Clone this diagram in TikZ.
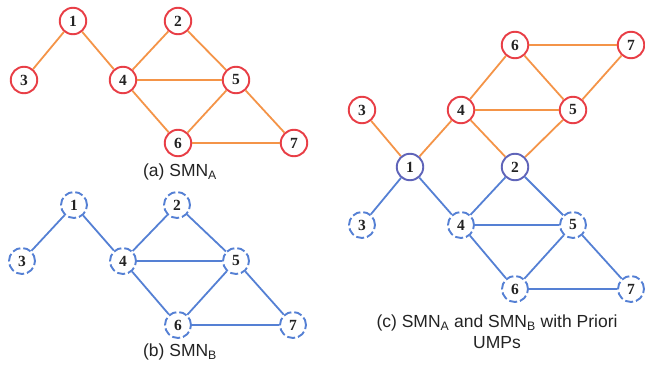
\documentclass[tikz,border=0pt]{standalone}
\usepackage{fontspec}
\setmainfont{Liberation Sans}
\newfontfamily\numfont{Liberation Serif}
\definecolor{edgeor}{RGB}{244,148,72}
\definecolor{nodered}{RGB}{232,62,70}
\definecolor{netblue}{RGB}{85,128,212}
\definecolor{mixblue}{RGB}{95,100,185}
\definecolor{txtgray}{RGB}{35,35,35}
\begin{document}
\begin{tikzpicture}[x=1pt,y=-1pt,
  rnode/.style={circle,draw=nodered,line width=1.9pt,fill=white,minimum size=26.5pt,inner sep=0pt,font=\numfont\bfseries\fontsize{15.5}{15.5}\selectfont,text=txtgray},
  bnode/.style={circle,draw=netblue,line width=1.9pt,dash pattern=on 8pt off 3pt,fill=white,minimum size=26pt,inner sep=0pt,font=\numfont\bfseries\fontsize{15.5}{15.5}\selectfont,text=txtgray},
  mnode/.style={circle,draw=mixblue,line width=1.9pt,fill=white,minimum size=26.5pt,inner sep=0pt,font=\numfont\bfseries\fontsize{15.5}{15.5}\selectfont,text=txtgray},
  oedge/.style={draw=edgeor,line width=1.8pt},
  bedge/.style={draw=netblue,line width=1.8pt},
  captext/.style={font=\fontsize{17.5}{21}\selectfont,text=txtgray,align=center}]
\useasboundingbox (0,0) rectangle (645,366);
% (a)
\node[rnode] (a1) at (73,21) {1};
\node[rnode] (a2) at (178,21) {2};
\node[rnode] (a3) at (24,80) {3};
\node[rnode] (a4) at (123,80) {4};
\node[rnode] (a5) at (236,80) {5};
\node[rnode] (a6) at (178,143) {6};
\node[rnode] (a7) at (294,143) {7};
\foreach \u/\v in {a1/a3,a1/a4,a4/a2,a2/a5,a4/a5,a4/a6,a5/a6,a5/a7,a6/a7}
  \draw[oedge] (\u) -- (\v);
\node[captext] (capa) at (180,172) {(a) SMN\textsubscript{A}};
% (b)
\node[bnode] (b1) at (74,205) {1};
\node[bnode] (b2) at (177,205) {2};
\node[bnode] (b3) at (22,261) {3};
\node[bnode] (b4) at (123,261) {4};
\node[bnode] (b5) at (236,261) {5};
\node[bnode] (b6) at (178,325) {6};
\node[bnode] (b7) at (293,325) {7};
\foreach \u/\v in {b1/b3,b1/b4,b4/b2,b2/b5,b4/b5,b4/b6,b5/b6,b5/b7,b6/b7}
  \draw[bedge] (\u) -- (\v);
\node[captext] (capb) at (180,352) {(b) SMN\textsubscript{B}};
% (c)
\node[rnode] (c6) at (515,45) {6};
\node[rnode] (c7) at (631,45) {7};
\node[rnode] (c3) at (362,110) {3};
\node[rnode] (c4) at (461,110) {4};
\node[rnode] (c5) at (573,110) {5};
\node[mnode] (c1) at (410,167) {1};
\node[mnode] (c2) at (515,167) {2};
\node[bnode] (d3) at (362,225) {3};
\node[bnode] (d4) at (461,225) {4};
\node[bnode] (d5) at (573,225) {5};
\node[bnode] (d6) at (515,289) {6};
\node[bnode] (d7) at (631,289) {7};
\foreach \u/\v in {c3/c1,c1/c4,c4/c6,c6/c7,c6/c5,c4/c5,c4/c2,c5/c2,c7/c5}
  \draw[oedge] (\u) -- (\v);
\foreach \u/\v in {c1/d3,c1/d4,c2/d4,c2/d5,d4/d5,d4/d6,d5/d6,d5/d7,d6/d7}
  \draw[bedge] (\u) -- (\v);
\node[captext] (capc) at (497,332) {(c) SMN\textsubscript{A} and SMN\textsubscript{B} with Priori\\UMPs};
\end{tikzpicture}
\end{document}
